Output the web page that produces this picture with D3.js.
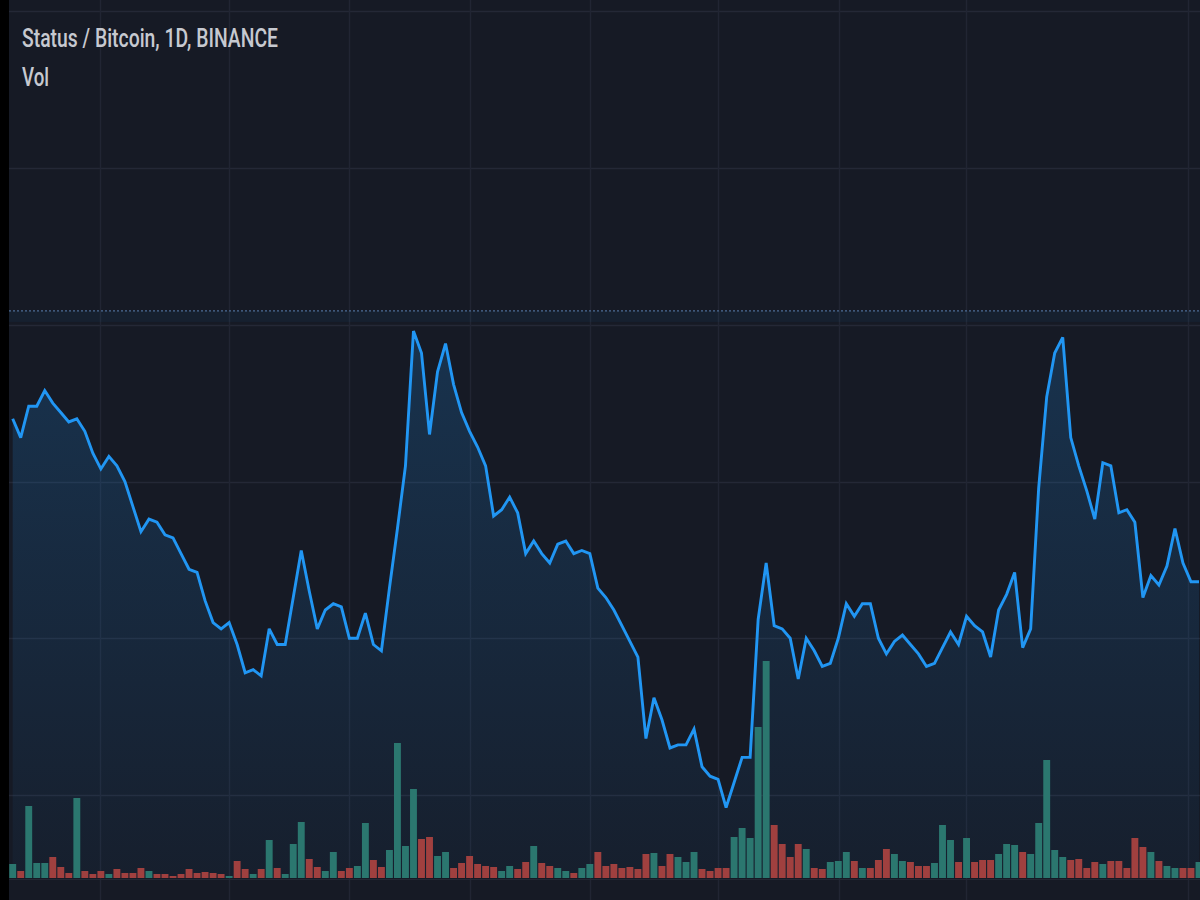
<!DOCTYPE html>
<html>
<head>
<meta charset="utf-8">
<script src="https://cdn.jsdelivr.net/npm/d3@7/dist/d3.min.js"></script>
<style>
  html, body { margin: 0; padding: 0; background: #161a25; }
  svg { display: block; }
</style>
</head>
<body>
<svg id="chart" width="1200" height="900"></svg>
<script>
// ---- Data ----
const titleText = "Status / Bitcoin, 1D, BINANCE";
const volLabel = "Vol";

// daily close, in units of 1e-6 BTC (approx.)
const closePrice = [
  2.20, 2.14, 2.24, 2.24, 2.29, 2.25, 2.22, 2.19, 2.20, 2.16,
  2.09, 2.04, 2.08, 2.05, 2.00, 1.92, 1.84, 1.88, 1.87, 1.83,
  1.82, 1.77, 1.72, 1.71, 1.62, 1.55, 1.53, 1.55, 1.48, 1.39,
  1.40, 1.38, 1.53, 1.48, 1.48, 1.63, 1.78, 1.65, 1.53, 1.59,
  1.61, 1.60, 1.50, 1.50, 1.58, 1.48, 1.46, 1.66, 1.85, 2.05,
  2.48, 2.41, 2.15, 2.35, 2.44, 2.31, 2.22, 2.16, 2.11, 2.05,
  1.89, 1.91, 1.95, 1.90, 1.77, 1.81, 1.77, 1.74, 1.80, 1.81,
  1.77, 1.78, 1.77, 1.66, 1.63, 1.59, 1.54, 1.49, 1.44, 1.18,
  1.31, 1.24, 1.15, 1.16, 1.16, 1.21, 1.09, 1.06, 1.05, 0.96,
  1.04, 1.12, 1.12, 1.56, 1.74, 1.54, 1.53, 1.50, 1.37, 1.50,
  1.46, 1.41, 1.42, 1.50, 1.61, 1.57, 1.61, 1.61, 1.50, 1.45,
  1.49, 1.51, 1.48, 1.45, 1.41, 1.42, 1.47, 1.52, 1.48, 1.57,
  1.54, 1.52, 1.44, 1.59, 1.64, 1.71, 1.47, 1.53, 1.98, 2.27,
  2.41, 2.46, 2.14, 2.05, 1.97, 1.88, 2.06, 2.05, 1.90, 1.91,
  1.87, 1.63, 1.70, 1.67, 1.73, 1.85, 1.74, 1.68, 1.68
];

// daily volume (relative units)
const volume = [
  14, 7, 72, 15, 15, 21, 11, 5, 80, 7,
  4, 7, 4, 9, 5, 5, 10, 7, 4, 4,
  2, 4, 9, 5, 6, 5, 4, 2, 17, 9,
  4, 9, 38, 10, 4, 34, 56, 19, 11, 7,
  26, 7, 10, 12, 55, 18, 11, 28, 135, 32,
  89, 39, 41, 22, 26, 10, 15, 22, 14, 12,
  11, 7, 12, 9, 16, 32, 15, 12, 10, 7,
  5, 10, 14, 26, 12, 14, 10, 11, 9, 24,
  25, 12, 24, 21, 16, 26, 9, 7, 10, 10,
  41, 50, 40, 151, 217, 53, 34, 21, 34, 29,
  10, 9, 16, 17, 26, 17, 10, 10, 18, 29,
  24, 17, 16, 12, 12, 15, 53, 38, 16, 40,
  16, 18, 18, 24, 34, 33, 26, 24, 55, 118,
  28, 21, 18, 19, 10, 16, 14, 17, 17, 10,
  40, 31, 26, 17, 12, 10, 10, 10, 16
];

// 1 = up day (green volume bar), 0 = down day (red)
const volumeUp = [
  1,0,1,1,1,0,0,0,1,0,
  0,0,1,0,0,0,0,1,0,0,
  0,0,0,0,0,0,0,1,0,0,
  1,0,1,0,1,1,1,0,0,1,
  1,0,0,1,1,0,0,1,1,1,
  1,0,0,1,1,0,0,0,0,0,
  0,1,1,0,0,1,0,0,1,1,
  0,1,1,0,0,0,0,0,0,0,
  1,0,0,1,1,1,0,0,0,0,
  1,1,1,1,1,0,0,0,0,1,
  0,0,1,1,1,0,1,0,0,0,
  1,1,0,0,0,1,1,1,0,1,
  0,0,0,1,1,1,0,1,1,1,
  1,1,0,0,0,0,1,0,0,0,
  0,0,1,0,1,1,0,0,1
];

// horizontal price grid levels and time grid positions (bar index)
const priceGrid = [1.0, 1.5, 2.0, 2.5, 3.0, 3.5];
const timeGrid = [10.9, 27, 42, 57, 72, 88, 103.1, 118.9, 146.6];
const refLevel = 2.544;

// ---- Drawing ----
const W = 1200, H = 900;
const svg = d3.select("#chart");

const x = d3.scaleLinear().domain([0, closePrice.length - 1]).range([12.7, 1199]);
const y = d3.scaleLinear().domain([1.0, 3.0]).range([795, 168]);
const yVol = d3.scaleLinear().domain([0, 250]).range([878, 628]);
const step = x(1) - x(0);
const barW = step * 0.86;

svg.append("rect").attr("width", W).attr("height", H).attr("fill", "#161a25");

const defs = svg.append("defs");
const grad = defs.append("linearGradient")
  .attr("id", "areaGrad").attr("gradientUnits", "userSpaceOnUse")
  .attr("x1", 0).attr("x2", 0).attr("y1", y(2.5)).attr("y2", yVol(0));
grad.append("stop").attr("offset", 0).attr("stop-color", "#2196f3").attr("stop-opacity", 0.2);
grad.append("stop").attr("offset", 1).attr("stop-color", "#2196f3").attr("stop-opacity", 0.04);

defs.append("clipPath").attr("id", "pane")
  .append("rect").attr("x", 9).attr("y", 0).attr("width", W - 9).attr("height", H);

const g = svg.append("g").attr("clip-path", "url(#pane)");

// grid
g.append("g").selectAll("line").data(priceGrid).join("line")
  .attr("x1", 9).attr("x2", W)
  .attr("y1", d => Math.round(y(d)) + 0.5).attr("y2", d => Math.round(y(d)) + 0.5)
  .attr("stroke", "#242836").attr("stroke-width", 1.5);

g.append("g").selectAll("line").data(timeGrid).join("line")
  .attr("x1", d => Math.round(x(d)) + 0.5).attr("x2", d => Math.round(x(d)) + 0.5)
  .attr("y1", 0).attr("y2", H)
  .attr("stroke", "#212533").attr("stroke-width", 1.5);

// bottom separator
g.append("line").attr("x1", 9).attr("x2", W)
  .attr("y1", yVol(0) + 1.5).attr("y2", yVol(0) + 1.5)
  .attr("stroke", "#232734").attr("stroke-width", 1);

// reference (dotted) price level + faint band
g.append("rect").attr("x", 9).attr("width", W)
  .attr("y", y(refLevel)).attr("height", 11)
  .attr("fill", "#2196f3").attr("opacity", 0.05);
g.append("line").attr("x1", 9).attr("x2", W)
  .attr("y1", y(refLevel)).attr("y2", y(refLevel))
  .attr("stroke", "#4c6c96").attr("stroke-width", 1.2)
  .attr("stroke-dasharray", "2,2");

// area under the line
const area = d3.area()
  .x((d, i) => x(i))
  .y0(yVol(0))
  .y1(d => y(d));
g.append("path").datum(closePrice)
  .attr("d", area).attr("fill", "url(#areaGrad)");

// volume bars
g.append("g").selectAll("rect").data(volume).join("rect")
  .attr("x", (d, i) => x(i) - barW / 2)
  .attr("width", barW)
  .attr("y", d => yVol(d))
  .attr("height", d => yVol(0) - yVol(d))
  .attr("fill", (d, i) => volumeUp[i] ? "#2b776f" : "#a0403f");

// price line
const line = d3.line().x((d, i) => x(i)).y(d => y(d));
g.append("path").datum(closePrice)
  .attr("d", line).attr("fill", "none")
  .attr("stroke", "#2196f3").attr("stroke-width", 2.9)
  .attr("stroke-linejoin", "miter").attr("stroke-miterlimit", 3);

// left black strip
svg.append("rect").attr("x", 0).attr("y", 0).attr("width", 9).attr("height", H).attr("fill", "#000");

// texts
svg.append("text").attr("x", 22).attr("y", 47)
  .attr("font-family", "Roboto, 'Open Sans', sans-serif").attr("font-size", 25)
  .attr("font-weight", 500)
  .attr("fill", "#c6c9d0")
  .attr("textLength", 256).attr("lengthAdjust", "spacingAndGlyphs")
  .text(titleText);
svg.append("text").attr("x", 22).attr("y", 86)
  .attr("font-family", "Roboto, 'Open Sans', sans-serif").attr("font-size", 25)
  .attr("font-weight", 500)
  .attr("fill", "#c6c9d0")
  .attr("textLength", 27).attr("lengthAdjust", "spacingAndGlyphs")
  .text(volLabel);
</script>
</body>
</html>
